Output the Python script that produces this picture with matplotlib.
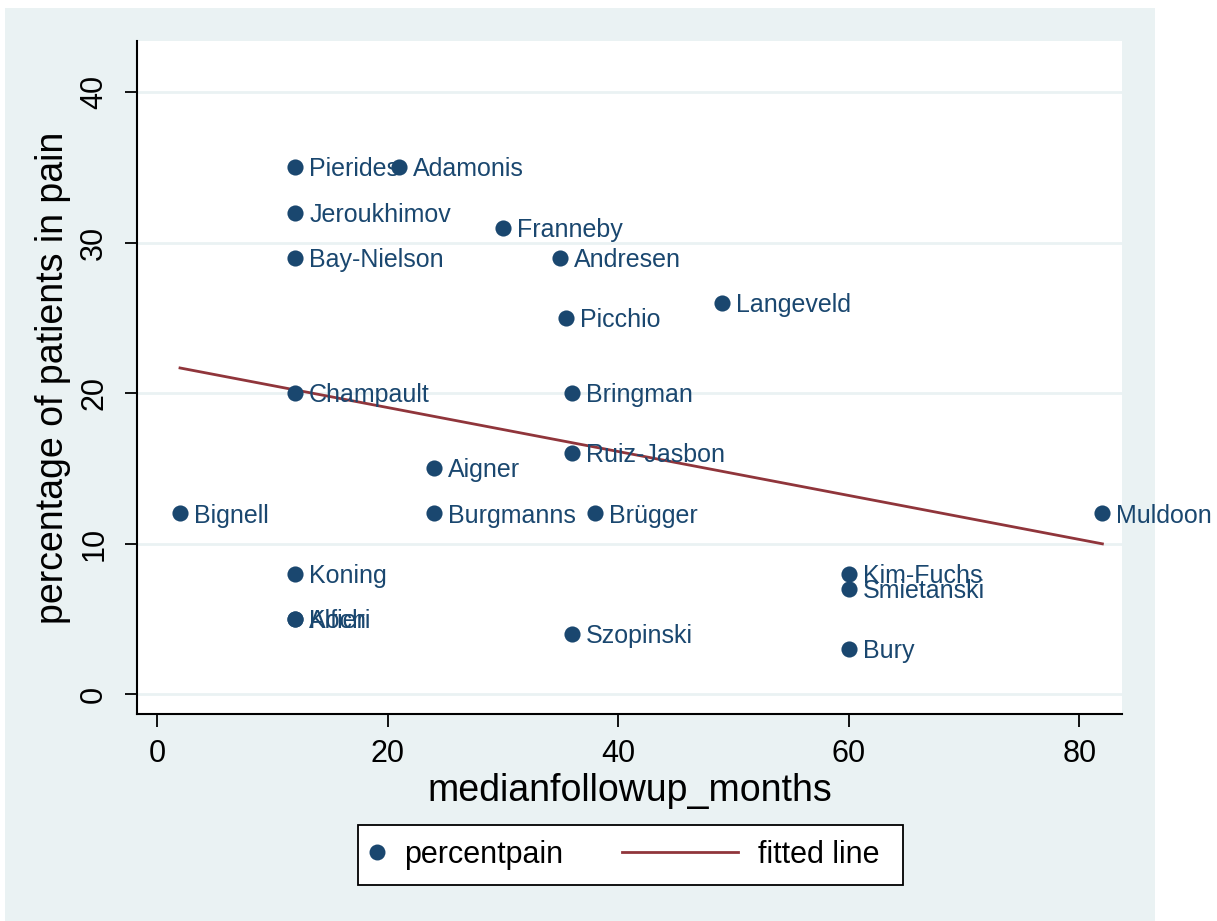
import numpy as np
import matplotlib.pyplot as plt
from matplotlib.patches import Rectangle
from matplotlib.lines import Line2D

plt.rcParams['font.family'] = ['Liberation Sans', 'DejaVu Sans']

# study labels, median follow-up (months) and percentage in pain
studies = ["Pierides", "Adamonis", "Jeroukhimov", "Franneby", "Bay-Nielson",
           "Andresen", "Langeveld", "Picchio", "Champault", "Bringman",
           "Ruiz-Jasbon", "Aigner", "Burgmanns", "Brügger", "Bignell",
           "Koning", "Koch", "Alfieri", "Kim-Fuchs", "Smietanski", "Bury",
           "Szopinski", "Muldoon"]
followup = [12, 21, 12, 30, 12, 35, 49, 35.5, 12, 36, 36, 24, 24, 38, 2,
            12, 12, 12, 60, 60, 60, 36, 82]
pain = [35, 35, 32, 31, 29, 29, 26, 25, 20, 20, 16, 15, 12, 12, 12,
        8, 5, 5, 8, 7, 3, 4, 12]

xticks = [0, 20, 40, 60, 80]
yticks = [0, 10, 20, 30, 40]

navy = '#1A476F'
maroon = '#90353B'
bg = '#EAF2F3'

W, H = 1217, 921
fig = plt.figure(figsize=(W / 100, H / 100), dpi=100)
fig.patch.set_facecolor('white')
fig.patches.append(Rectangle((5 / W, 0), 1150 / W, 913 / H,
                             transform=fig.transFigure, facecolor=bg,
                             edgecolor='none', zorder=-10))

ax = fig.add_axes([137 / W, 1 - 714 / H, 985 / W, 673 / H])
ax.set_facecolor('white')

x = np.array(followup, dtype=float)
y = np.array(pain, dtype=float)

ax.scatter(x, y, s=135, color=navy, zorder=3, linewidths=0)
for name, xi, yi in zip(studies, x, y):
    ax.annotate(name, (xi, yi), xytext=(10, -1.5), textcoords='offset points',
                ha='left', va='center', fontsize=18, color=navy,
                annotation_clip=False, zorder=4)

# linear fit, like Stata's lfit
slope, icpt = np.polyfit(x, y, 1)
xf = np.array([x.min(), x.max()])
ax.plot(xf, icpt + slope * xf, color=maroon, lw=2, zorder=2)

ax.set_xlim(-1.73, 83.7)
ax.set_ylim(-1.33, 43.4)
ax.set_xticks(xticks)
ax.set_yticks(yticks)
ax.grid(axis='y', color=bg, lw=2)
ax.set_axisbelow(True)
ax.spines['top'].set_visible(False)
ax.spines['right'].set_visible(False)
ax.spines['left'].set_linewidth(1.5)
ax.spines['bottom'].set_linewidth(1.5)
ax.tick_params(axis='both', length=9, width=1.3, labelsize=22)
ax.tick_params(axis='x', pad=9)
ax.tick_params(axis='y', pad=11)
for lab in ax.get_yticklabels():
    lab.set_rotation(90)
    lab.set_va('center')

ax.set_xlabel('medianfollowup_months', fontsize=27, labelpad=3)
ax.set_ylabel('percentage of patients in pain', fontsize=27, labelpad=6)

# legend: frame box plus two entries with different handle widths
fig.patches.append(Rectangle((358 / W, 1 - 885 / H), 545 / W, 60 / H,
                             transform=fig.transFigure, facecolor='white',
                             edgecolor='black', lw=1.3, zorder=1))
pt = Line2D([], [], ls='none', marker='o', markersize=11.5,
            color=navy, markeredgewidth=0)
ln = Line2D([], [], color=maroon, lw=2)
ly = 1 - 855 / H
leg1 = fig.legend([pt], ['percentpain'], loc='center left',
                  bbox_to_anchor=(365 / W, ly), frameon=False, fontsize=22,
                  handlelength=0.8, handletextpad=0.47, borderpad=0,
                  borderaxespad=0)
leg2 = fig.legend([ln], ['fitted line'], loc='center left',
                  bbox_to_anchor=(622 / W, ly), frameon=False, fontsize=22,
                  handlelength=3.8, handletextpad=0.65, borderpad=0,
                  borderaxespad=0)

fig.savefig('out.png', dpi=100, facecolor=fig.get_facecolor())
